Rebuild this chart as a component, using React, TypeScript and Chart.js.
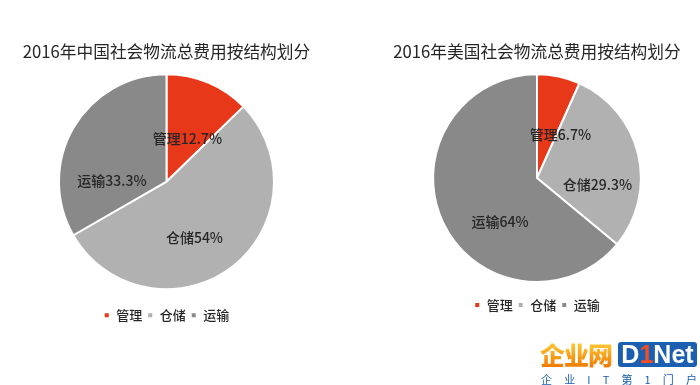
import React, { useEffect, useRef } from "react";
import { Chart, registerables } from "chart.js";

Chart.register(...registerables);

const categories = ["管理", "仓储", "运输"];
const chinaValues = [12.7, 54, 33.3];
const usaValues = [6.7, 29.3, 64];
const chinaTitle = "2016年中国社会物流总费用按结构划分";
const usaTitle = "2016年美国社会物流总费用按结构划分";
const sliceColors = ["#E8381A", "#B1B1B1", "#898989"];

const FONT = '"Noto Sans CJK SC", "Microsoft YaHei", sans-serif';
const TEXT = "#262626";

// label anchors, in units of the pie radius, relative to the pie centre
const chinaLabelPos = [[0.195, -0.4], [0.26, 0.521], [-0.507, -0.009]];
const usaLabelPos = [[0.226, -0.418], [0.582, 0.0625], [-0.356, 0.418]];

const sliceLabels = {
  id: "sliceLabels",
  afterDatasetsDraw(chart: any, _args: any, opts: any) {
    const ctx = chart.ctx;
    const meta = chart.getDatasetMeta(0);
    const data = chart.data.datasets[0].data;
    ctx.save();
    ctx.font = `500 14px ${FONT}`;
    ctx.fillStyle = TEXT;
    ctx.textAlign = "center";
    ctx.textBaseline = "middle";
    meta.data.forEach((arc: any, i: number) => {
      const p = opts.pos[i];
      const r = arc.outerRadius;
      ctx.fillText(`${chart.data.labels[i]}${data[i]}%`, arc.x + p[0] * r, arc.y + p[1] * r);
    });
    ctx.restore();
  },
};

function makeConfig(title: string, values: number[], pos: number[][], pad: any, legendGap: number) {
  return {
    type: "pie" as const,
    data: {
      labels: categories,
      datasets: [
        {
          data: values,
          backgroundColor: sliceColors,
          borderColor: "#ffffff",
          borderWidth: 2,
          hoverOffset: 0,
        },
      ],
    },
    options: {
      responsive: false,
      animation: false,
      devicePixelRatio: 1,
      layout: { padding: pad },
      plugins: {
        tooltip: { enabled: false },
        title: {
          display: true,
          text: title,
          color: TEXT,
          font: { family: FONT, size: 16.7, weight: "normal", lineHeight: 1.2 },
          padding: { top: 41.98, bottom: 11.18 },
        },
        legend: {
          display: true,
          position: "bottom",
          title: {
            display: true,
            text: "",
            font: { size: 1, lineHeight: 1 },
            padding: { top: legendGap - 1, bottom: 0 },
          },
          labels: {
            boxWidth: 6,
            boxHeight: 6,
            padding: 5,
            color: TEXT,
            font: { family: FONT, size: 13, weight: 500 },
          },
        },
        sliceLabels: { pos },
      },
    },
    plugins: [sliceLabels],
  };
}

function PieCanvas(props: { cfg: any; left: number }) {
  const ref = useRef<HTMLCanvasElement>(null);
  useEffect(() => {
    const chart = new Chart(ref.current as HTMLCanvasElement, props.cfg);
    return () => chart.destroy();
  }, []);
  return (
    <canvas
      ref={ref}
      width={350}
      height={385}
      style={{ position: "absolute", left: props.left, top: 0, width: 350, height: 385 }}
    />
  );
}

export default function App() {
  const chinaCfg = makeConfig(chinaTitle, chinaValues, chinaLabelPos, { left: 10, right: 27, top: 0, bottom: 53.3 }, 13.5);
  const usaCfg = makeConfig(usaTitle, usaValues, usaLabelPos, { left: 30, right: 6, top: 0, bottom: 63.5 }, 10.5);
  return (
    <div
      style={{
        position: "fixed",
        left: 0,
        top: 0,
        width: 700,
        height: 385,
        background: "#ffffff",
        overflow: "hidden",
      }}
    >
      <PieCanvas cfg={chinaCfg} left={0} />
      <PieCanvas cfg={usaCfg} left={350} />
      <div
        style={{
          position: "absolute",
          left: 540,
          top: 340,
          width: 78,
          height: 28,
          fontFamily: FONT,
          fontWeight: 900,
          fontSize: 25,
          lineHeight: "28px",
          letterSpacing: -1,
          background: "linear-gradient(#FFD23A, #F07800)",
          WebkitBackgroundClip: "text",
          color: "transparent",
        }}
      >
        企业网
      </div>
      <div
        style={{
          position: "absolute",
          left: 618,
          top: 342,
          width: 79,
          height: 25,
          background: "#1C5FB0",
          borderRadius: 3,
          color: "#ffffff",
          fontFamily: "Arial, 'Liberation Sans', sans-serif",
          fontWeight: 700,
          fontSize: 25,
          lineHeight: "25px",
          textAlign: "center",
        }}
      >
        D<span style={{ color: "#F04E23" }}>1</span>Net
      </div>
      <div
        style={{
          position: "absolute",
          left: 541,
          top: 373,
          width: 156,
          height: 12,
          display: "flex",
          justifyContent: "space-between",
          fontFamily: FONT,
          fontSize: 11,
          lineHeight: "12px",
          color: "#1C5FB0",
        }}
      >
        {["企", "业", "I", "T", "第", "1", "门", "户"].map((c, i) => (
          <span key={i}>{c}</span>
        ))}
      </div>
    </div>
  );
}
